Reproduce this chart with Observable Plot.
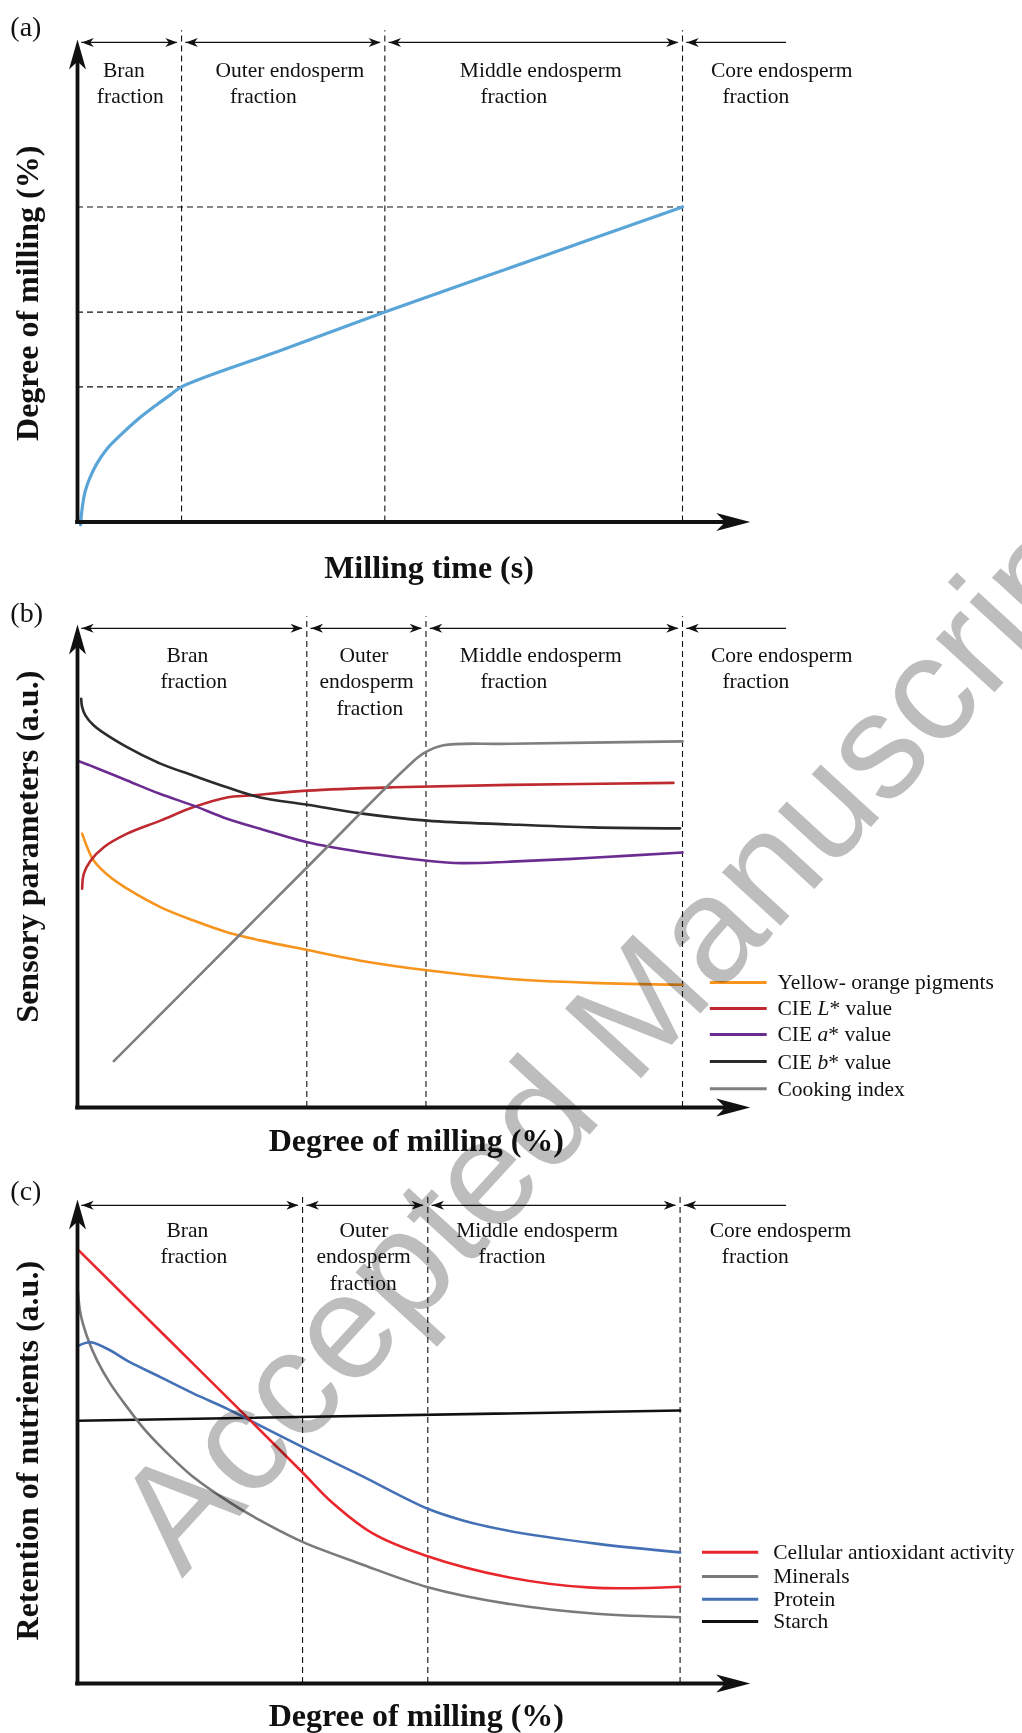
<!DOCTYPE html>
<html>
<head>
<meta charset="utf-8">
<script src="https://cdn.jsdelivr.net/npm/d3@7"></script>
<script src="https://cdn.jsdelivr.net/npm/@observablehq/plot@0.6"></script>
<style>
  html, body { margin: 0; padding: 0; background: #fff; }
  #page { position: relative; width: 1022px; height: 1733px; overflow: hidden; background: #fff; }
  #page svg.plotpanel { position: absolute; left: 0; }
</style>
</head>
<body>
<div id="page"></div>
<script>
// ====================== DATA ======================
// Fraction names (header of every panel)
const fractionLines = {
  bran: ["Bran", "fraction"],
  outerA: ["Outer endosperm", "fraction"],
  outerBC: ["Outer", "endosperm", "fraction"],
  middle: ["Middle endosperm", "fraction"],
  core: ["Core endosperm", "fraction"]
};

// ---- Panel (a): degree of milling vs milling time (schematic, a.u.) ----
const aMillingTime     = [0.5, 0.8, 1.3, 2.1, 3.2, 4.9, 7.1, 9.9, 13.2, 15.4, 17.2, 34.0, 50.8, 75.4, 100];
const aDegreeOfMilling = [-0.6, 3.1, 6.5, 9.3, 12.1, 15.2, 18.0, 21.2, 24.4, 26.4, 28.0, 35.75, 43.5, 54.4, 65.3];
const aFractionEnds    = [17.2, 50.8, 100];   // milling time at the end of bran / outer / middle fraction
const aFractionDegree  = [28.0, 43.5, 65.3];  // degree of milling reached at those times

// ---- Panel (b): sensory parameters vs degree of milling ----
const bFractionEnds = [37.9, 57.6, 100];
const bSeriesNames  = ["Yellow- orange pigments", "CIE L* value", "CIE a* value", "CIE b* value", "Cooking index"];
const bSeriesColors = ["#f7941d", "#be2a2f", "#6b2c91", "#2b2b2b", "#7f7f7f"];
const bYellowX = [0.77, 1.6, 2.7, 5.4, 8.2, 13.7, 19.2, 24.7, 30.2, 38.0, 46.8, 57.8, 71.6, 85, 100];
const bYellowY = [56.7, 53.9, 51.1, 47.7, 45.3, 41.5, 38.7, 36.3, 34.6, 32.6, 30.4, 28.4, 26.6, 25.8, 25.4];
const bLX = [0.77, 1.05, 2.15, 4.35, 8.2, 13.7, 19.2, 24.7, 28.6, 38.0, 52.3, 71.6, 98.5];
const bLY = [45.3, 48.4, 51.1, 53.9, 56.7, 59.4, 62.2, 64.2, 64.6, 65.6, 66.3, 66.8, 67.2];
const bAX = [0, 2.7, 8.2, 13.7, 19.2, 24.7, 30.2, 38.0, 46.8, 57.8, 63.5, 71.6, 85, 100];
const bAY = [71.8, 70.5, 67.7, 64.9, 62.5, 59.8, 57.7, 54.9, 52.9, 51.1, 50.6, 50.9, 51.7, 52.8];
const bBX = [0.61, 0.75, 1.3, 2.7, 8.2, 13.7, 19.2, 24.7, 30.2, 38.0, 46.8, 57.8, 71.6, 85, 99.6];
const bBY = [84.6, 83.0, 81.2, 79.1, 74.6, 71.2, 68.7, 66.3, 64.2, 62.7, 60.9, 59.4, 58.6, 58.0, 57.8];
const bCookX = [6.0, 22.0, 38.0, 54.5, 57.3, 60.5, 71.6, 100];
const bCookY = [9.6, 29.7, 49.8, 70.5, 73.4, 75.0, 75.3, 75.8];

// ---- Panel (c): retention of nutrients vs degree of milling ----
const cFractionEnds = [37.2, 57.9, 99.6];
const cSeriesNames  = ["Cellular antioxidant activity", "Minerals", "Protein", "Starch"];
const cSeriesColors = ["#e8262b", "#7a7a7a", "#4470b5", "#111111"];
const cAntioxX = [0.2, 14.4, 28.6, 37.2, 42.0, 48.8, 57.6, 71.0, 85.0, 99.6];
const cAntioxY = [89.5, 71.9, 54.3, 43.6, 37.5, 31.0, 26.4, 22.0, 19.8, 20.0];
const cMineralX = [0.05, 0.5, 1.6, 3.25, 5.45, 8.2, 11.0, 13.7, 19.2, 24.7, 30.2, 37.3, 46.8, 57.9, 71.0, 85.7, 99.6];
const cMineralY = [81.2, 76.4, 71.6, 66.7, 61.9, 57.1, 52.6, 49.0, 42.6, 37.8, 33.7, 29.2, 24.7, 19.9, 16.5, 14.4, 13.7];
const cProteinX = [0.2, 2.15, 5.45, 8.2, 13.7, 19.2, 24.7, 28.6, 37.3, 46.8, 57.9, 63.7, 71.0, 85.7, 99.6];
const cProteinY = [69.8, 70.5, 68.8, 66.7, 63.3, 59.9, 56.8, 54.3, 48.8, 43.0, 36.1, 33.7, 31.6, 28.9, 27.1];
const cStarchX = [0, 99.6];
const cStarchY = [54.3, 56.4];

// ====================== HELPERS ======================
const SERIF = "'Liberation Serif', 'Times New Roman', Times, serif";
const INK = "#111";
const toPts = (xs, ys) => xs.map((x, i) => ({x, y: ys[i]}));

// filled, notched arrowhead symbol with the tip at the dot position
function arrowHead(dir, len, half, notch) {
  const base = [[0, 0], [len, -half], [len - notch, 0], [len, half]]; // points left
  const tf = {left: ([a, b]) => [a, b], right: ([a, b]) => [-a, b], up: ([a, b]) => [b, a]};
  const pts = base.map(tf[dir]);
  return {draw(ctx) {
    ctx.moveTo(pts[0][0], pts[0][1]);
    for (let i = 1; i < pts.length; ++i) ctx.lineTo(pts[i][0], pts[i][1]);
    ctx.closePath();
  }};
}
const HEAD_L = arrowHead("left", 12, 4.5, 3.5);
const HEAD_R = arrowHead("right", 12, 4.5, 3.5);
const AXIS_UP = arrowHead("up", 30, 8.5, 8);
const AXIS_RIGHT = arrowHead("right", 34, 9, 9);

const HEADER_END = 117.2;   // right end of the open "core endosperm" arrow
const X_AXIS_TIP = 111.2;   // tip of the horizontal axis arrow

function panel(cfg) {
  const {top, height, marginTop, marginBottom, ends, headerY, header, rows,
         tag, tagY, yTitle, yTitleY, xTitle, xTitleX, xTitleY, curves, legend, extraMarks = []} = cfg;
  const gap = 0.7;
  const stops = [0, ...ends];
  const segs = ends.map((e, i) => ({x1: stops[i] + gap, x2: e - gap, right: true}));
  segs.push({x1: ends[ends.length - 1] + gap, x2: HEADER_END, right: false});

  const marks = [
    // dashed fraction boundaries
    Plot.ruleX(ends, {x: d => d, y1: 0, y2: headerY + 2.4, stroke: INK, strokeWidth: 1.1, strokeDasharray: "6,4"}),
    ...extraMarks,
    // header arrows
    Plot.ruleY(segs, {x1: "x1", x2: "x2", y: () => headerY, stroke: INK, strokeWidth: 1.3}),
    Plot.dot(segs, {x: "x1", y: () => headerY, symbol: HEAD_L, fill: INK, stroke: "none"}),
    Plot.dot(segs.filter(d => d.right), {x: "x2", y: () => headerY, symbol: HEAD_R, fill: INK, stroke: "none"}),
    // header labels
    Plot.text(header, {x: "x", y: d => rows[d.row], text: "text", textAnchor: "start", lineAnchor: "bottom",
      fontSize: 21.5, fill: INK}),
    // curves
    ...curves.map(c => Plot.line(c.data, {x: "x", y: "y", stroke: c.color, strokeWidth: c.width ?? 2.6,
      curve: "catmull-rom", strokeLinecap: "round", strokeLinejoin: "round"})),
    // axes
    Plot.ruleX([0], {x: d => d, y1: -0.45, y2: 96.5, stroke: INK, strokeWidth: 3.8}),
    Plot.ruleY([0], {y: d => d, x1: -0.3, x2: X_AXIS_TIP - 3, stroke: INK, strokeWidth: 3.8}),
    Plot.dot([0], {x: () => 0, y: () => 100, symbol: AXIS_UP, fill: INK, stroke: "none"}),
    Plot.dot([0], {x: () => X_AXIS_TIP, y: () => 0, symbol: AXIS_RIGHT, fill: INK, stroke: "none"}),
    // titles
    Plot.text([tag], {x: () => -11.1, y: () => tagY, text: d => d, textAnchor: "start", fontSize: 28, fill: INK}),
    Plot.text([yTitle], {x: () => -8.2, y: () => yTitleY, text: d => d, rotate: -90, fontSize: 32,
      fontWeight: "bold", fill: INK}),
    Plot.text([xTitle], {x: () => xTitleX, y: () => xTitleY, text: d => d, fontSize: 32, fontWeight: "bold", fill: INK})
  ];
  if (legend) {
    marks.push(
      Plot.ruleY(legend.items, {x1: () => legend.x1, x2: () => legend.x2, y: "y", stroke: "color", strokeWidth: 3}),
      Plot.text(legend.items, {x: () => legend.tx, y: "y", text: "name", textAnchor: "start", fontSize: 21.5, fill: INK})
    );
  }
  const svg = Plot.plot({
    width: 1022, height, marginLeft: 77, marginRight: 340, marginTop, marginBottom,
    x: {domain: [0, 100], axis: null},
    y: {domain: [0, 100], axis: null},
    color: {type: "identity"},
    style: {fontFamily: SERIF, background: "transparent", overflow: "visible", color: INK},
    marks
  });
  svg.classList.add("plotpanel");
  svg.style.top = top + "px";
  // italic L, a, b in "CIE L* value" etc.
  svg.querySelectorAll("text").forEach(t => {
    const m = /^CIE ([Lab])\* value$/.exec(t.textContent);
    if (!m) return;
    t.textContent = "";
    const ns = "http://www.w3.org/2000/svg";
    const p1 = document.createElementNS(ns, "tspan"); p1.textContent = "CIE ";
    const p2 = document.createElementNS(ns, "tspan"); p2.textContent = m[1]; p2.setAttribute("font-style", "italic");
    const p3 = document.createElementNS(ns, "tspan"); p3.textContent = "* value";
    t.append(p1, p2, p3);
  });
  return svg;
}

const ROWS = [92.2, 86.8, 81.3];
function headerItems(spec) {
  const out = [];
  for (const [lines, xs] of spec) lines.forEach((text, row) => out.push({text, x: xs[row], row}));
  return out;
}

const page = document.getElementById("page");

// ---------- Panel (a) ----------
page.append(panel({
  top: 0, height: 590, marginTop: 39, marginBottom: 68.5,
  ends: aFractionEnds, headerY: 99.4, rows: ROWS,
  header: headerItems([
    [fractionLines.bran, [4.2, 3.2]],
    [fractionLines.outerA, [22.8, 25.2]],
    [fractionLines.middle, [63.2, 66.6]],
    [fractionLines.core, [104.7, 106.6]]
  ]),
  tag: "(a)", tagY: 102.6,
  yTitle: "Degree of milling (%)", yTitleY: 47.4,
  xTitle: "Milling time (s)", xTitleX: 58.1, xTitleY: -9.4,
  extraMarks: [
    Plot.ruleY(aFractionEnds.map((x, i) => ({x, y: aFractionDegree[i]})),
      {x1: () => 0, x2: "x", y: "y", stroke: INK, strokeWidth: 1.1, strokeDasharray: "6,4"})
  ],
  curves: [{data: toPts(aMillingTime, aDegreeOfMilling), color: "#5aa5d8", width: 3.2}]
}));

// ---------- Panel (b) ----------
const bLegendY = [25.9, 20.5, 15.1, 9.5, 3.9];
page.append(panel({
  top: 590, height: 570, marginTop: 34, marginBottom: 53,
  ends: bFractionEnds, headerY: 99.2, rows: ROWS,
  header: headerItems([
    [fractionLines.bran, [14.7, 13.7]],
    [fractionLines.outerBC, [43.3, 40.0, 42.8]],
    [fractionLines.middle, [63.2, 66.6]],
    [fractionLines.core, [104.7, 106.6]]
  ]),
  tag: "(b)", tagY: 102.4,
  yTitle: "Sensory parameters (a.u.)", yTitleY: 54.0,
  xTitle: "Degree of milling (%)", xTitleX: 56.0, xTitleY: -6.8,
  curves: [
    {data: toPts(bYellowX, bYellowY), color: bSeriesColors[0]},
    {data: toPts(bLX, bLY), color: bSeriesColors[1]},
    {data: toPts(bAX, bAY), color: bSeriesColors[2]},
    {data: toPts(bBX, bBY), color: bSeriesColors[3]},
    {data: toPts(bCookX, bCookY), color: bSeriesColors[4]}
  ],
  legend: {x1: 104.6, x2: 114.0, tx: 115.7,
    items: bSeriesNames.map((name, i) => ({name, color: bSeriesColors[i], y: bLegendY[i]}))}
}));

// ---------- Panel (c) ----------
const cLegendY = [27.1, 22.1, 17.4, 12.8];
page.append(panel({
  top: 1160, height: 573, marginTop: 39, marginBottom: 50,
  ends: cFractionEnds, headerY: 98.8, rows: ROWS,
  header: headerItems([
    [fractionLines.bran, [14.7, 13.7]],
    [fractionLines.outerBC, [43.3, 39.5, 41.7]],
    [fractionLines.middle, [62.6, 66.3]],
    [fractionLines.core, [104.5, 106.5]]
  ]),
  tag: "(c)", tagY: 101.8,
  yTitle: "Retention of nutrients (a.u.)", yTitleY: 48.1,
  xTitle: "Degree of milling (%)", xTitleX: 56.0, xTitleY: -6.6,
  curves: [
    {data: toPts(cStarchX, cStarchY), color: cSeriesColors[3]},
    {data: toPts(cMineralX, cMineralY), color: cSeriesColors[1]},
    {data: toPts(cProteinX, cProteinY), color: cSeriesColors[2]},
    {data: toPts(cAntioxX, cAntioxY), color: cSeriesColors[0]}
  ],
  legend: {x1: 103.3, x2: 112.6, tx: 115.0,
    items: cSeriesNames.map((name, i) => ({name, color: cSeriesColors[i], y: cLegendY[i]}))}
}));

// ---------- Watermark ----------
(function () {
  const ns = "http://www.w3.org/2000/svg";
  const svg = document.createElementNS(ns, "svg");
  svg.setAttribute("width", 1022); svg.setAttribute("height", 1733);
  svg.setAttribute("style", "position:absolute;left:0;top:0;pointer-events:none;mix-blend-mode:multiply;");
  const t = document.createElementNS(ns, "text");
  t.setAttribute("transform", "translate(182,1579) rotate(-47.5)");
  t.setAttribute("font-family", "'Liberation Sans', Arial, sans-serif");
  t.setAttribute("font-size", "150");
  t.setAttribute("fill", "#bdbdbd");
  t.textContent = "Accepted Manuscript";
  svg.append(t);
  page.append(svg);
})();
</script>
</body>
</html>
